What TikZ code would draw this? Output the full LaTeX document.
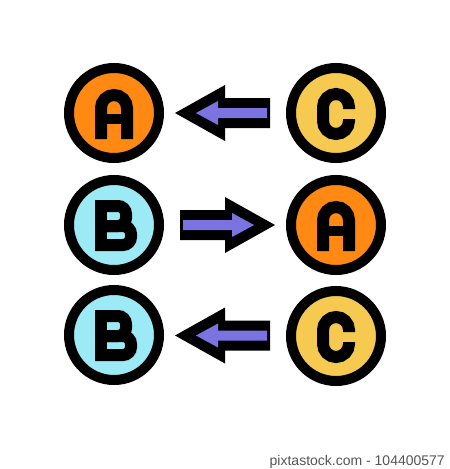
\documentclass[tikz,border=0pt]{standalone}
\usepackage{fontspec}
\setmainfont{Liberation Sans}
\usetikzlibrary{calc}
\definecolor{cOrange}{HTML}{FF8913}
\definecolor{cYellow}{HTML}{F6CA50}
\definecolor{cBlue}{HTML}{9BEAF6}
\definecolor{cPurple}{HTML}{7C73E1}
\definecolor{cGray}{HTML}{555555}
\tikzset{
  badge/.style={circle, draw=black, line width=10pt, minimum size=90pt, inner sep=0pt},
  glyph/.style={draw=black, line width=12pt, line cap=butt, line join=miter},
  letterA/.pic={
    \draw[glyph] (-13,26) -- (-13,-5) arc[start angle=180, end angle=0, radius=13pt] -- (13,26);
    \fill[black] (-13,1) rectangle (13,11);
  },
  letterB/.pic={
    \draw[glyph] (-13,-24) -- (-13,26);
    \draw[glyph, rounded corners=8pt] (-19,-19) -- (12,-19) -- (12,1) -- (-19,1);
    \draw[glyph, rounded corners=8pt] (-19,1) -- (17,1) -- (17,20) -- (-19,20);
  },
  letterC/.pic={
    \draw[glyph] (13,-4) -- (13,-6) arc[start angle=0, end angle=180, radius=13pt]
      -- (-13,8) arc[start angle=180, end angle=360, radius=13pt] -- (13,6);
  },
  arrowL/.pic={
    \fill[black] (-50,0) -- (0,-28) -- (0,-15) -- (45,-15) -- (45,15) -- (0,15) -- (0,28) -- cycle;
    \fill[cPurple] (-29,0) -- (-7,-12) -- (-7,-5) -- (42,-5) -- (42,5) -- (-7,5) -- (-7,12) -- cycle;
  },
  arrowR/.pic={
    \begin{scope}[xscale=-1]
    \fill[black] (-50,0) -- (0,-28) -- (0,-15) -- (45,-15) -- (45,15) -- (0,15) -- (0,28) -- cycle;
    \fill[cPurple] (-29,0) -- (-7,-12) -- (-7,-5) -- (42,-5) -- (42,5) -- (-7,5) -- (-7,12) -- cycle;
    \end{scope}
  }
}
\begin{document}
\begin{tikzpicture}[x=1pt,y=-1pt]
\useasboundingbox (0,0) rectangle (450,469);
\fill[white] (0,0) rectangle (450,469);
% circles
\node[badge, fill=cOrange] (a1) at (114,113) {};
\node[badge, fill=cYellow] (c1) at (336,113) {};
\node[badge, fill=cBlue]   (b2) at (114,225) {};
\node[badge, fill=cOrange] (a2) at (336,225) {};
\node[badge, fill=cBlue]   (b3) at (114,335) {};
\node[badge, fill=cYellow] (c3) at (336,336) {};
% letters
\pic at (a1.center) {letterA};
\pic at (c1.center) {letterC};
\pic at (b2.center) {letterB};
\pic at (a2.center) {letterA};
\pic at (b3.center) {letterB};
\pic at (c3.center) {letterC};
% arrows
\pic at ($(a1)!0.5!(c1)$) {arrowL};
\pic at ($(b2)!0.5!(a2)$) {arrowR};
\pic at ($(b3)!0.5!(c3)$) {arrowL};
% credit
\node[anchor=base east, text=cGray, inner sep=0pt, font=\fontsize{14}{16}\selectfont] (credit) at (445,465) {pixtastock.com - 104400577};
\end{tikzpicture}
\end{document}
